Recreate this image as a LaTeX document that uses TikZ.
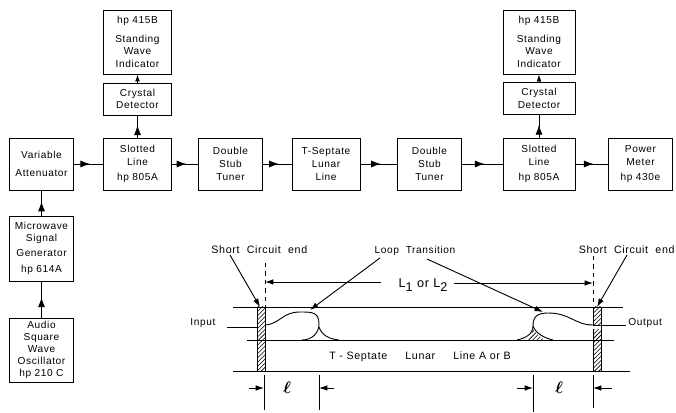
\documentclass[tikz,border=0pt]{standalone}
\usepackage{amsmath,amssymb}
\usepackage{fontspec}
\setmainfont[LetterSpace=6]{Liberation Sans}
\usetikzlibrary{arrows.meta,decorations.markings,patterns}

\begin{document}
\begin{tikzpicture}[
  x=0.025cm, y=-0.025cm,
  line width=0.65pt,
  box/.style={draw, minimum width=1.6cm, minimum height=1.3cm, align=center, inner sep=0pt, font=\fontsize{7.2}{9}\selectfont},
  widebox/.style={box, minimum width=1.7cm},
  indicator/.style={widebox, minimum height=1.6cm},
  detector/.style={widebox, minimum height=0.8cm},
  hatchbox/.style={draw, pattern=north east lines, minimum width=0.2cm, minimum height=1.6cm, inner sep=0pt},
  lbl/.style={inner sep=0pt, align=center, font=\fontsize{7.2}{9}\selectfont},
  biglbl/.style={lbl, font=\fontsize{7.6}{9}\selectfont},
  arr/.style={postaction={decorate}, decoration={markings, mark=at position 0.56 with {\arrow{Latex[length=7pt,width=5pt]}}}},
  tip/.style={-{Latex[length=5pt,width=3.5pt]}},
  dim/.style={-{Latex[length=6pt,width=4pt]}}
]
\useasboundingbox (0,0) rectangle (676,413);

% measuring set-up
\node[box, minimum height=1.6cm] (osc) at (41.5,350) {Audio\\[-0.5pt]Square\\[-0.5pt]Wave\\[-0.5pt]Oscillator\\[-0.5pt]hp 210 C};
\node[box, minimum height=1.625cm] (gen) at (41.5,248.5) {Microwave\\Signal\\[1pt]Generator\\[3pt]hp 614A};
\node[box] (att) at (41.5,164) {Variable\\[4pt]Attenuator};
\node[widebox] (slota) at (137.5,164) {Slotted\\Line\\[2pt]hp 805A};
\node[box] (tunera) at (230.5,164) {Double\\Stub\\Tuner};
\node[widebox] (lunar) at (326,164) {T-Septate\\Lunar\\Line};
\node[box] (tunerb) at (429.5,164) {Double\\Stub\\Tuner};
\node[widebox, minimum width=1.8cm] (slotb) at (539,164) {Slotted\\Line\\[2pt]hp 805A};
\node[box] (meter) at (640.5,164) {Power\\Meter\\[2pt]hp 430e};
\node[detector] (cryst1) at (137.5,99) {Crystal\\Detector};
\node[detector, minimum width=1.8cm] (cryst2) at (539,98.5) {Crystal\\Detector};
\node[indicator] (swra) at (137.5,42) {hp 415B\\[4pt]Standing\\Wave\\Indicator};
\node[indicator, minimum width=1.8cm] (swrb) at (539,42) {hp 415B\\[4pt]Standing\\Wave\\Indicator};

\draw[arr] (osc) -- (gen);
\draw[arr] (gen) -- (att);
\draw[arr] (att) -- (slota);
\draw[arr] (slota) -- (tunera);
\draw[arr] (tunera) -- (lunar);
\draw[arr] (lunar) -- (tunerb);
\draw[arr] (tunerb) -- (slotb);
\draw[arr] (slotb) -- (meter);
\draw[arr] (slota) -- (cryst1);
\draw[arr] (slotb) -- (cryst2);
\draw[tip] (cryst1) -- (swra);
\draw[tip] (cryst2) -- (swrb);

% lunar line cross section
\draw (233,307) -- (623,307);
\draw (247,340) -- (614,340);
\draw (233,371) -- (630,371);
\node[hatchbox] (shorta) at (261,339) {};
\node[hatchbox] (shortb) at (597,339) {};
\draw[white, line width=3pt] (shortb.east |- 0,327) -- (shortb.west |- 0,327);

\node[lbl, anchor=west] (input) at (190,323) {Input};
\node[lbl, anchor=west] (output) at (628,323) {Output};
\coordinate (ina) at (227,327);
\coordinate (outa) at (626,325);
\draw (ina) -- (shorta.west |- ina);
\draw (outa) -- (shortb.west |- outa);

\draw (265,325) .. controls (280,324) and (282,312) .. (300,312) .. controls (312,312) and (319,312) .. (319,324) .. controls (319,333) and (312,340) .. (302,340);
\draw (319,327) .. controls (322,336) and (330,339) .. (339,340);
\draw (593,325) .. controls (575,325) and (570,313) .. (548,313) .. controls (538,313) and (533,316) .. (533,326) .. controls (533,334) and (526,338) .. (517,340);
\draw (533,326) .. controls (536,334) and (545,338) .. (553,340);
\fill[pattern=north east lines] (525,340) .. controls (530,337) and (533,333) .. (533,328) .. controls (536,334) and (541,338) .. (545,340) -- cycle;

\node[biglbl] (septate) at (420,357) {T - Septate\ \ \ \ \ Lunar\ \ \ \ \ Line A or B};

% labels and leaders
\node[biglbl, anchor=west] (sca) at (211,250) {Short\ \ Circuit\ \ end};
\node[biglbl, anchor=east] (scb) at (675,250) {Short\ \ Circuit\ \ end};
\node[lbl] (loop) at (415,251) {Loop\ \ Transition};
\coordinate (scafrom) at (230,255);
\coordinate (scato) at (260,307);
\coordinate (scbfrom) at (627,255);
\coordinate (scbto) at (597,307);
\coordinate (loopa) at (380,258);
\coordinate (loopato) at (310,310);
\coordinate (loopb) at (427,259);
\coordinate (loopbto) at (543,312);
\draw[dim] (scafrom) -- (scato);
\draw[dim] (scbfrom) -- (scbto);
\draw[dim] (loopa) -- (loopato);
\draw[dim] (loopb) -- (loopbto);

% dimensions
\node[lbl, font=\fontsize{9}{9}\selectfont] (length) at (423,285) {L\raisebox{-3pt}{1} or L\raisebox{-3pt}{2}};
\coordinate (refa) at (265,263);
\coordinate (refb) at (593,256);
\draw[dashed] (refa) -- (265,307);
\draw[dashed] (refb) -- (593,307);
\draw[dim] (length.west |- 0,282) ++(-17,0) -- (refa |- 0,282);
\draw[dim] (length.east |- 0,283) ++(6,0) -- (refb |- 0,283);

\draw (264,375) -- (264,410);
\draw (319,375) -- (319,410);
\draw (533,375) -- (533,412);
\draw (593,375) -- (593,408);
\coordinate (dima) at (249,388);
\coordinate (dimb) at (334,388);
\coordinate (dimc) at (517,388);
\coordinate (dimd) at (612,388);
\draw[dim] (dima) -- (264,388);
\draw[dim] (dimb) -- (319,388);
\draw[dim] (dimc) -- (533,388);
\draw[dim] (dimd) -- (593,388);
\node[lbl, font=\fontsize{13}{13}\selectfont\boldmath] (la) at (287,388) {$\ell$};
\node[lbl, font=\fontsize{13}{13}\selectfont\boldmath] (lb) at (559,388) {$\ell$};
\end{tikzpicture}
\end{document}
